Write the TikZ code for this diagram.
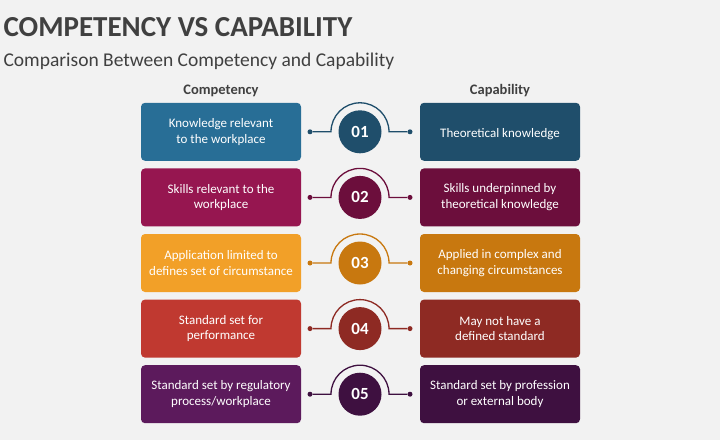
\documentclass[tikz,border=0pt]{standalone}
\usepackage{fontspec}
\setmainfont{Carlito}
\usepackage{tikz}
\usetikzlibrary{positioning}

\definecolor{bg}{HTML}{F2F2F2}
\definecolor{ink}{HTML}{404040}
\definecolor{blueL}{HTML}{286E96}
\definecolor{blueD}{HTML}{1F4E6B}
\definecolor{plumL}{HTML}{961650}
\definecolor{plumD}{HTML}{6C0E3C}
\definecolor{amberL}{HTML}{F2A028}
\definecolor{amberD}{HTML}{C8780F}
\definecolor{rustL}{HTML}{C03930}
\definecolor{rustD}{HTML}{8E2A23}
\definecolor{grapeL}{HTML}{5C1A5C}
\definecolor{grapeD}{HTML}{3E1040}

\begin{document}
\begin{tikzpicture}[x=1pt,y=-1pt,
  box/.style={minimum width=160pt,minimum height=58pt,rounded corners=4pt,text=white,align=center,
    font=\fontsize{13}{15.7}\selectfont,execute at begin node={\rule{0pt}{13pt}}},
  num/.style={circle,minimum size=43pt,inner sep=0pt,text=white,font=\fontsize{17}{20}\selectfont\bfseries},
  dot/.style={circle,minimum size=5pt,inner sep=0pt},
  link/.style={line width=1.3pt}]
\fill[bg] (0,0) rectangle (720,440);

\node [anchor=base west,text=ink,font=\fontsize{29}{34}\selectfont\bfseries] (title) at (0,36.5) {COMPETENCY VS CAPABILITY};
\node [anchor=base west,text=ink,font=\fontsize{19.5}{23}\selectfont] (subtitle) at (0,66) {Comparison Between Competency and Capability};
\node [anchor=base,text=ink,font=\fontsize{14.5}{17}\selectfont\bfseries] (hcomp) at (221,94) {Competency};
\node [anchor=base,text=ink,font=\fontsize{14.5}{17}\selectfont\bfseries] (hcapa) at (500,94) {Capability};

% row 1
\node [box,fill=blueL] (comp1) at (221,131.8) {Knowledge relevant\\to the workplace};
\node [box,fill=blueD] (capa1) at (500,131.8) {Theoretical knowledge};
\node [num,fill=blueD] (num1) at (360,131.8) {01};
\node [dot,fill=blueD] (dl1) at (310,131.8) {}; \node [dot,fill=blueD] (dr1) at (410,131.8) {};
\draw [link,blueD] (dl1) -- ([xshift=-29pt]num1.center) arc (180:360:29) -- (dr1);

% row 2
\node [box,fill=plumL] (comp2) at (221,197.4) {Skills relevant to the\\workplace};
\node [box,fill=plumD] (capa2) at (500,197.4) {Skills underpinned by\\theoretical knowledge};
\node [num,fill=plumD] (num2) at (360,197.4) {02};
\node [dot,fill=plumD] (dl2) at (310,197.4) {}; \node [dot,fill=plumD] (dr2) at (410,197.4) {};
\draw [link,plumD] (dl2) -- ([xshift=-29pt]num2.center) arc (180:360:29) -- (dr2);

% row 3
\node [box,fill=amberL] (comp3) at (221,263) {Application limited to\\defines set of circumstance};
\node [box,fill=amberD] (capa3) at (500,263) {Applied in complex and\\changing circumstances};
\node [num,fill=amberD] (num3) at (360,263) {03};
\node [dot,fill=amberD] (dl3) at (310,263) {}; \node [dot,fill=amberD] (dr3) at (410,263) {};
\draw [link,amberD] (dl3) -- ([xshift=-29pt]num3.center) arc (180:360:29) -- (dr3);

% row 4
\node [box,fill=rustL] (comp4) at (221,328.6) {Standard set for\\performance};
\node [box,fill=rustD] (capa4) at (500,328.6) {May not have a\\defined standard};
\node [num,fill=rustD] (num4) at (360,328.6) {04};
\node [dot,fill=rustD] (dl4) at (310,328.6) {}; \node [dot,fill=rustD] (dr4) at (410,328.6) {};
\draw [link,rustD] (dl4) -- ([xshift=-29pt]num4.center) arc (180:360:29) -- (dr4);

% row 5
\node [box,fill=grapeL] (comp5) at (221,394.2) {Standard set by regulatory\\process/workplace};
\node [box,fill=grapeD] (capa5) at (500,394.2) {Standard set by profession\\or external body};
\node [num,fill=grapeD] (num5) at (360,394.2) {05};
\node [dot,fill=grapeD] (dl5) at (310,394.2) {}; \node [dot,fill=grapeD] (dr5) at (410,394.2) {};
\draw [link,grapeD] (dl5) -- ([xshift=-29pt]num5.center) arc (180:360:29) -- (dr5);
\end{tikzpicture}
\end{document}
